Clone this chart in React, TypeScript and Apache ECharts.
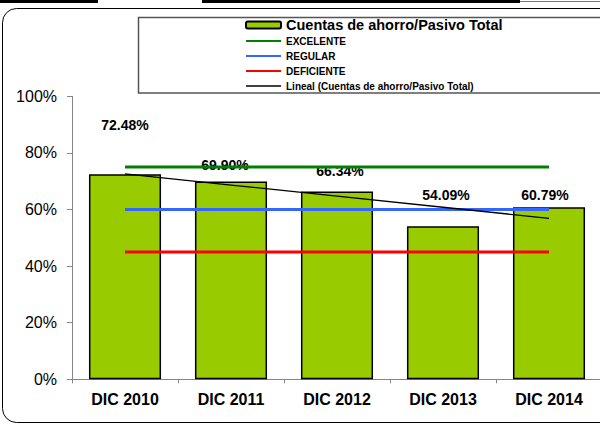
import React, { useEffect, useRef } from "react";
import * as echarts from "echarts";

const categories = ["DIC 2010", "DIC 2011", "DIC 2012", "DIC 2013", "DIC 2014"];
const ratioValues = [72.48, 69.9, 66.34, 54.09, 60.79];
const excelenteValues = [75, 75, 75, 75, 75];
const regularValues = [60, 60, 60, 60, 60];
const deficienteValues = [45, 45, 45, 45, 45];
const trendValues = [72.56, 68.64, 64.72, 60.8, 56.88];
const yTicks = [0, 20, 40, 60, 80, 100];

const barName = "Cuentas de ahorro/Pasivo Total";
const trendName = "Lineal (Cuentas de ahorro/Pasivo Total)";

// label placement (style, not data)
const labelOffsets = [
  [0, -37],
  [-6, -4],
  [3, -9],
  [3, -19],
  [-4, 0],
];

const FONT = "'Liberation Sans', Arial, sans-serif";
const LINE_ICON = "path://M0,0 L35,0 L35,2 L0,2 Z";
const THIN_ICON = "path://M0,0 L35,0 L35,1.4 L0,1.4 Z";

export default function App() {
  const ref = useRef<HTMLDivElement>(null);
  useEffect(() => {
    document.body.style.margin = "0";
    if (!ref.current) return;
    const chart = echarts.init(ref.current, null, { renderer: "svg" });
    const small = { fontSize: 10, fontWeight: "bold", fontFamily: FONT, color: "#000", lineHeight: 14 };
    chart.setOption({
      animation: false,
      backgroundColor: "#fff",
      textStyle: { fontFamily: FONT },
      graphic: [
        { type: "rect", shape: { x: 0, y: 0, width: 98, height: 3 }, style: { fill: "#000" }, silent: true },
        { type: "rect", shape: { x: 202, y: 0, width: 318, height: 3 }, style: { fill: "#000" }, silent: true },
        { type: "line", shape: { x1: 520, y1: 1.5, x2: 600, y2: 1.5 }, style: { stroke: "#777", lineWidth: 1 }, silent: true },
        {
          type: "rect",
          shape: { x: 2.5, y: 8.5, width: 612, height: 414, r: 14 },
          style: { fill: "none", stroke: "#000", lineWidth: 1 },
          silent: true,
          z: -10,
        },
        {
          type: "rect",
          shape: { x: 138.5, y: 17.5, width: 470, height: 75.5 },
          style: { fill: "none", stroke: "#555", lineWidth: 1.5 },
          silent: true,
          z: -10,
        },
      ],
      legend: {
        orient: "vertical",
        left: 245,
        top: 17,
        padding: 0,
        itemGap: 1,
        itemWidth: 35,
        itemHeight: 7,
        data: [
          {
            name: barName,
            textStyle: { fontSize: 14.5, fontWeight: "bold", fontFamily: FONT, color: "#000", lineHeight: 16 },
          },
          { name: "EXCELENTE", icon: LINE_ICON, itemStyle: { color: "#008000", borderWidth: 0 }, textStyle: small },
          { name: "REGULAR", icon: LINE_ICON, itemStyle: { color: "#3366FF", borderWidth: 0 }, textStyle: small },
          { name: "DEFICIENTE", icon: LINE_ICON, itemStyle: { color: "#FF0000", borderWidth: 0 }, textStyle: small },
          { name: trendName, icon: THIN_ICON, itemStyle: { color: "#000", borderWidth: 0 }, textStyle: small },
        ],
      },
      grid: { left: 72, top: 96.3, bottom: 45.7, right: -2, outerBoundsMode: "none", containLabel: false },
      xAxis: {
        type: "category",
        data: categories,
        boundaryGap: true,
        axisLine: { lineStyle: { color: "#868686", width: 1 } },
        axisTick: { show: true, length: 4, lineStyle: { color: "#868686" } },
        axisLabel: { fontSize: 16, fontWeight: "bold", color: "#000", margin: 12, fontFamily: FONT },
        splitLine: { show: false },
      },
      yAxis: {
        type: "value",
        min: yTicks[0],
        max: yTicks[yTicks.length - 1],
        interval: 20,
        axisLine: { show: true, lineStyle: { color: "#868686", width: 1 } },
        axisTick: { show: true, length: 5, lineStyle: { color: "#868686" } },
        axisLabel: { fontSize: 16, color: "#000", margin: 15, formatter: "{value}%", fontFamily: FONT },
        splitLine: { show: false },
      },
      series: [
        {
          name: barName,
          type: "bar",
          barCategoryGap: "32%",
          data: ratioValues.map((v, i) => ({
            value: v,
            label: { offset: labelOffsets[i] },
          })),
          itemStyle: { color: "#99CC00", borderColor: "#000", borderWidth: 1.5 },
          label: {
            show: true,
            position: "top",
            distance: 5,
            fontSize: 14,
            fontWeight: "bold",
            color: "#000",
            fontFamily: FONT,
            formatter: (p: any) => p.value.toFixed(2) + "%",
          },
          z: 2,
        },
        {
          name: "EXCELENTE",
          type: "line",
          data: excelenteValues,
          symbol: "none",
          lineStyle: { color: "#008000", width: 3 },
          itemStyle: { color: "#008000" },
          z: 3,
        },
        {
          name: "REGULAR",
          type: "line",
          data: regularValues,
          symbol: "none",
          lineStyle: { color: "#3366FF", width: 3 },
          itemStyle: { color: "#3366FF" },
          z: 3,
        },
        {
          name: "DEFICIENTE",
          type: "line",
          data: deficienteValues,
          symbol: "none",
          lineStyle: { color: "#FF0000", width: 3 },
          itemStyle: { color: "#FF0000" },
          z: 3,
        },
        {
          name: trendName,
          type: "line",
          data: trendValues,
          symbol: "none",
          lineStyle: { color: "#000", width: 1.3 },
          itemStyle: { color: "#000" },
          z: 3,
        },
      ],
    });
    return () => chart.dispose();
  }, []);
  return (
    <div
      ref={ref}
      style={{ width: 600, height: 425, position: "absolute", left: 0, top: 0 }}
    />
  );
}
